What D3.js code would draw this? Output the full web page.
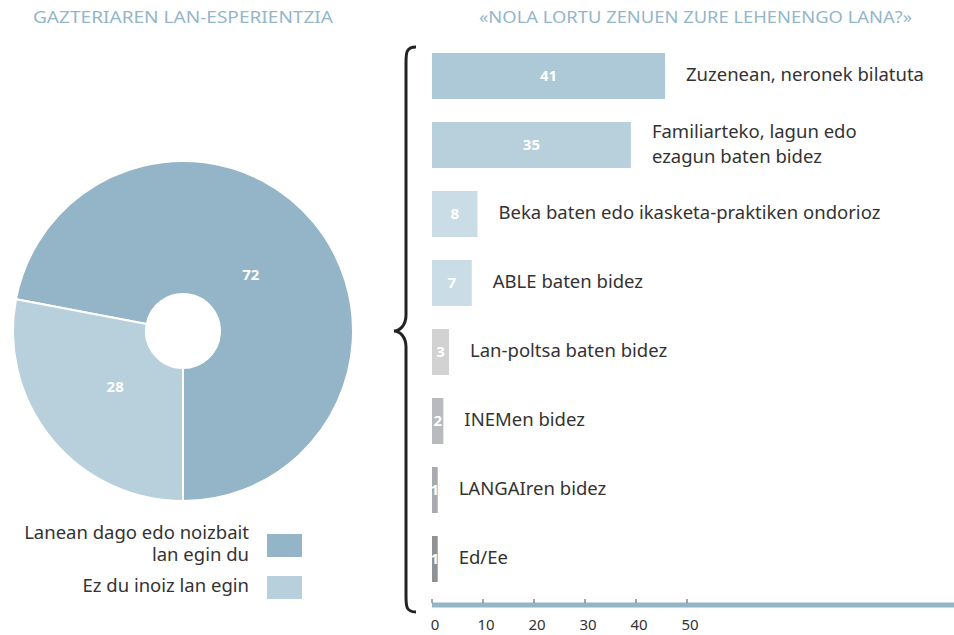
<!DOCTYPE html>
<html>
<head>
<meta charset="utf-8">
<script src="https://cdn.jsdelivr.net/npm/d3@7"></script>
<style>
  body { margin: 0; background: #fff; }
  svg { display: block; font-family: "Noto Sans", "Open Sans", sans-serif; }
</style>
</head>
<body>
<svg id="chart" width="954" height="635"></svg>
<script>
// left: pie
const pieLabels = ["Lanean dago edo noizbait lan egin du", "Ez du inoiz lan egin"];
const pieValues = [72, 28];
const pieColors = ["#93b5c7", "#b8d0dc"];

// right: bars
const barCategories = [
  "Zuzenean, neronek bilatuta",
  "Familiarteko, lagun edo ezagun baten bidez",
  "Beka baten edo ikasketa-praktiken ondorioz",
  "ABLE baten bidez",
  "Lan-poltsa baten bidez",
  "INEMen bidez",
  "LANGAIren bidez",
  "Ed/Ee"
];
const barValues = [41, 35, 8, 7, 3, 2, 1, 1];
const barColors = ["#adc9d7", "#b8d0dc", "#cadde6", "#cadde6", "#d2d2d3", "#b9babd", "#a9aaad", "#8f9194"];
const axisTicks = [0, 10, 20, 30, 40, 50];

const svg = d3.select("#chart");

// titles
svg.append("text")
  .attr("x", 33).attr("y", 23)
  .attr("fill", "#93b6c9")
  .attr("font-size", 16)
  .attr("textLength", 300)
  .attr("lengthAdjust", "spacingAndGlyphs")
  .text("GAZTERIAREN LAN-ESPERIENTZIA");

svg.append("text")
  .attr("x", 479).attr("y", 23)
  .attr("fill", "#93b6c9")
  .attr("font-size", 16)
  .attr("textLength", 433)
  .attr("lengthAdjust", "spacingAndGlyphs")
  .text("«NOLA LORTU ZENUEN ZURE LEHENENGO LANA?»");

// ---- pie ----
const pieG = svg.append("g").attr("transform", "translate(183,331)");
const pie = d3.pie().sort(null).startAngle(Math.PI).endAngle(-Math.PI);
const arcs = pie(pieValues);
const arc = d3.arc().innerRadius(37).outerRadius(170);
const labelArc = d3.arc().innerRadius(88).outerRadius(88);

pieG.selectAll("path")
  .data(arcs)
  .enter()
  .append("path")
  .attr("d", arc)
  .attr("fill", (d, i) => pieColors[i])
  .attr("stroke", "#fff")
  .attr("stroke-width", 2);

pieG.selectAll("text")
  .data(arcs)
  .enter()
  .append("text")
  .attr("transform", (d) => `translate(${labelArc.centroid(d)})`)
  .attr("text-anchor", "middle")
  .attr("dy", "0.35em")
  .attr("fill", "#fff")
  .attr("font-weight", "bold")
  .attr("font-size", 15)
  .text((d) => d.data);

// legend
const legendRows = [
  { lines: ["Lanean dago edo noizbait", "lan egin du"], y: 534 },
  { lines: ["Ez du inoiz lan egin"], y: 576 }
];
legendRows.forEach((row, i) => {
  svg.append("rect")
    .attr("x", 267).attr("y", row.y)
    .attr("width", 35).attr("height", 23)
    .attr("fill", pieColors[i]);
  const t = svg.append("text")
    .attr("x", 249)
    .attr("text-anchor", "end")
    .attr("fill", "#333")
    .attr("font-size", 18.5);
  row.lines.forEach((ln, j) => {
    t.append("tspan")
      .attr("x", 249)
      .attr("y", (row.lines.length > 1 ? row.y + 5 : row.y + 16) + j * 22)
      .text(ln);
  });
});

// ---- bars ----
const x = d3.scaleLinear().domain([0, 41]).range([432, 665]);
const xAxisScale = d3.scaleLinear().domain([0, 50]).range([432, 687]);
const y = d3.scaleBand()
  .domain(barCategories)
  .range([41.5, 593.5])
  .paddingInner(1 / 3)
  .paddingOuter(1 / 6);

const barG = svg.append("g");
barG.selectAll("rect")
  .data(barCategories)
  .enter()
  .append("rect")
  .attr("x", x(0))
  .attr("y", (d) => y(d))
  .attr("width", (d, i) => x(barValues[i]) - x(0))
  .attr("height", y.bandwidth())
  .attr("fill", (d, i) => barColors[i]);

barG.selectAll("text.val")
  .data(barCategories)
  .enter()
  .append("text")
  .attr("class", "val")
  .attr("x", (d, i) => (x(0) + x(barValues[i])) / 2)
  .attr("y", (d) => y(d) + y.bandwidth() / 2)
  .attr("dy", "0.35em")
  .attr("text-anchor", "middle")
  .attr("fill", "#fff")
  .attr("font-weight", "bold")
  .attr("font-size", 15)
  .text((d, i) => barValues[i]);

// category labels, the long one wraps in two lines
const wrapAt = { "Familiarteko, lagun edo ezagun baten bidez": ["Familiarteko, lagun edo", "ezagun baten bidez"] };
barCategories.forEach((c, i) => {
  const lines = wrapAt[c] || [c];
  const cy = y(c) + y.bandwidth() / 2;
  const t = barG.append("text")
    .attr("fill", "#333")
    .attr("font-size", 18.5);
  lines.forEach((ln, j) => {
    t.append("tspan")
      .attr("x", x(barValues[i]) + 21)
      .attr("y", cy + (j - (lines.length - 1) / 2) * 25 - 1)
      .attr("dy", "0.35em")
      .text(ln);
  });
});

// axis
const axisG = svg.append("g").attr("transform", "translate(0,605)");
axisG.append("line")
  .attr("x1", 432).attr("x2", 954)
  .attr("stroke", "#93b5c7")
  .attr("stroke-width", 5);
axisG.selectAll("line.tick")
  .data(axisTicks)
  .enter()
  .append("line")
  .attr("class", "tick")
  .attr("x1", (d) => xAxisScale(d)).attr("x2", (d) => xAxisScale(d))
  .attr("y1", -6).attr("y2", -2)
  .attr("stroke", "#555")
  .attr("stroke-width", 1);
axisG.selectAll("text")
  .data(axisTicks)
  .enter()
  .append("text")
  .attr("x", (d) => xAxisScale(d) + 3)
  .attr("y", 25)
  .attr("text-anchor", "middle")
  .attr("fill", "#333")
  .attr("font-size", 15)
  .text((d) => d);

// curly brace
const bx = 406, bTop = 47, bBot = 612, bMid = 331;
svg.append("path")
  .attr("d", `M${bx + 10},${bTop} C${bx},${bTop} ${bx},${bTop + 6} ${bx},${bTop + 16}
    L${bx},${bMid - 16} C${bx},${bMid - 6} ${bx - 6},${bMid} ${bx - 12},${bMid}
    C${bx - 6},${bMid} ${bx},${bMid + 6} ${bx},${bMid + 16}
    L${bx},${bBot - 16} C${bx},${bBot - 6} ${bx},${bBot} ${bx + 10},${bBot}`)
  .attr("fill", "none")
  .attr("stroke", "#222")
  .attr("stroke-width", 3);
</script>
</body>
</html>
